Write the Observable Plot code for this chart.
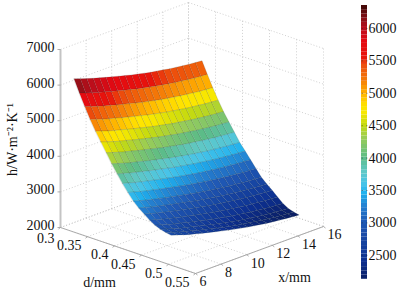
<!DOCTYPE html>
<html>
<head>
<meta charset="utf-8">
<script src="https://cdn.jsdelivr.net/npm/d3@7"></script>
<script src="https://cdn.jsdelivr.net/npm/@observablehq/plot@0.6"></script>
<style>html,body{margin:0;padding:0;background:#fff}svg{display:block}svg text{font-family:"Liberation Serif","Times New Roman",serif !important}</style>
</head>
<body>
<div id="chart"></div>
<script>
const dValues = [0.325,0.335,0.345,0.355,0.365,0.375,0.385,0.395,0.405,0.415,0.425,0.435,0.445,0.455,0.465,0.475,0.485,0.495,0.505];
const xValues = [6,6.5,7,7.5,8,8.5,9,9.5,10,10.5,11,11.5,12,12.5,13,13.5,14,14.5,15,15.5,16];
const hRows = [
[6310,6245,6180,6123,6074,6017,5968,5919,5870,5821,5780,5739,5699,5666,5634,5601,5576,5552,5528,5511,5495],
[5960,5896,5832,5776,5728,5672,5624,5576,5528,5480,5440,5400,5360,5328,5296,5264,5240,5216,5192,5176,5160],
[5630,5567,5504,5448,5401,5346,5298,5251,5203,5156,5116,5077,5037,5006,4974,4943,4919,4895,4872,4856,4840],
[5320,5258,5195,5141,5094,5039,4992,4946,4899,4852,4813,4774,4735,4704,4673,4641,4618,4595,4571,4556,4540],
[5040,4978,4917,4863,4817,4763,4717,4670,4624,4578,4540,4501,4462,4432,4401,4370,4347,4324,4301,4285,4270],
[4790,4729,4668,4615,4570,4516,4471,4425,4380,4334,4296,4258,4220,4190,4159,4129,4106,4083,4060,4045,4030],
[4540,4480,4421,4369,4324,4272,4227,4182,4138,4093,4056,4018,3981,3951,3922,3892,3869,3847,3825,3810,3795],
[4280,4222,4165,4114,4071,4021,3978,3934,3891,3848,3812,3776,3740,3711,3682,3654,3632,3610,3589,3574,3560],
[4050,3996,3941,3894,3853,3805,3764,3724,3683,3642,3608,3574,3540,3513,3486,3458,3438,3418,3397,3384,3370],
[3830,3778,3726,3680,3641,3596,3557,3518,3479,3440,3407,3375,3342,3316,3290,3264,3245,3225,3206,3193,3180],
[3630,3578,3526,3480,3441,3396,3357,3318,3279,3240,3207,3175,3142,3116,3090,3064,3045,3025,3006,2993,2980],
[3440,3388,3336,3290,3251,3206,3167,3128,3089,3050,3017,2985,2952,2926,2900,2874,2855,2835,2816,2803,2790],
[3300,3248,3196,3150,3111,3066,3027,2988,2949,2910,2877,2845,2812,2786,2760,2734,2715,2695,2676,2663,2650],
[3180,3128,3075,3029,2990,2944,2905,2866,2826,2787,2754,2722,2689,2663,2636,2610,2590,2571,2551,2538,2525],
[3060,3006,2953,2906,2866,2819,2779,2738,2698,2658,2624,2591,2557,2531,2504,2477,2457,2437,2417,2403,2390],
[2970,2913,2856,2807,2764,2714,2672,2629,2587,2544,2508,2473,2437,2409,2381,2352,2331,2310,2288,2274,2260],
[2910,2851,2792,2740,2695,2644,2599,2555,2510,2466,2429,2392,2355,2325,2296,2266,2244,2222,2200,2185,2170],
[2870,2810,2751,2699,2654,2602,2557,2512,2468,2423,2386,2348,2311,2281,2252,2222,2199,2177,2155,2140,2125],
[2840,2780,2720,2668,2623,2571,2526,2481,2437,2392,2354,2317,2280,2250,2220,2190,2168,2145,2123,2108,2093]
];
const dTicks = [0.3,0.35,0.4,0.45,0.5,0.55];
const xTicks = [6,8,10,12,14,16];
const hTicks = [2000,3000,4000,5000,6000,7000];
const barTicks = [2500,3000,3500,4000,4500,5000,5500,6000];
const colorStops = [2130,2400,2700,3000,3250,3450,3600,3800,4000,4300,4500,4700,4800,5000,5200,5450,5550,5800,6000,6100,6310];
const colorRange = ["#0a1f66","#0c2f90","#1643a0","#2058b4","#2480d0","#1fb0ee","#48c4e8","#60c8c4","#5cbc88","#98cc58","#c4da10","#f8e800","#ffe400","#ffb000","#f47a08","#ec4a0c","#e8140c","#e40a12","#b80e1c","#981018","#4a0808"];

// Axonometric view of the (d, x, h) box onto the page plane.
const viewX = (d, x) => 60 + (d - 0.3) / 0.25 * 135 + (x - 6) / 10 * 128;
const viewY = (d, x, h) => 227 + (d - 0.3) / 0.25 * 46 - (x - 6) / 10 * 47 - (h - 2000) * 0.0356;
const barY = h => 28 + (6000 - h) * 0.0648;

const pt = (d, x, h) => ({px: viewX(d, x), py: viewY(d, x, h)});
const seg = (a, b) => ({x1: a.px, y1: a.py, x2: b.px, y2: b.py});
const dMin = 0.3, dMax = 0.55, xMin = 6, xMax = 16, hMin = 2000, hMax = 7000;

const cells = [];
dValues.slice(0, -1).forEach((d, i) => {
  xValues.slice(0, -1).forEach((x, j) => {
    const corners = [[i, j], [i, j + 1], [i + 1, j + 1], [i + 1, j]];
    const mean = d3.mean(corners, ([a, b]) => hRows[a][b]);
    corners.forEach(([a, b]) => {
      cells.push({cell: i + "-" + j, h: mean, ...pt(dValues[a], xValues[b], hRows[a][b])});
    });
  });
});

const grid = [
  ...dTicks.map(d => seg(pt(d, xMin, hMin), pt(d, xMax, hMin))),
  ...xTicks.map(x => seg(pt(dMin, x, hMin), pt(dMax, x, hMin))),
  ...xTicks.map(x => seg(pt(dMin, x, hMin), pt(dMin, x, hMax))),
  ...dTicks.map(d => seg(pt(d, xMax, hMin), pt(d, xMax, hMax))),
  ...hTicks.map(h => seg(pt(dMin, xMin, h), pt(dMin, xMax, h))),
  ...hTicks.map(h => seg(pt(dMin, xMax, h), pt(dMax, xMax, h)))
];
const edges = [
  seg(pt(dMin, xMin, hMin), pt(dMax, xMin, hMin)),
  seg(pt(dMax, xMin, hMin), pt(dMax, xMax, hMin))
];
const zAxis = [seg(pt(dMin, xMin, hMin), pt(dMin, xMin, hMax))];
const tickMarks = [
  ...hTicks.map(h => { const p = pt(dMin, xMin, h); return {x1: p.px - 3, y1: p.py, x2: p.px, y2: p.py}; }),
  ...dTicks.map(d => { const p = pt(d, xMin, hMin); return {x1: p.px, y1: p.py, x2: p.px - 2, y2: p.py + 1.5}; }),
  ...xTicks.map(x => { const p = pt(dMax, x, hMin); return {x1: p.px, y1: p.py, x2: p.px + 2, y2: p.py + 1.5}; })
];

const barLevels = d3.range(2130, 6310, 65);
const serif = "Liberation Serif";
const tickText = (data, opts) => Plot.text(data, {fontFamily: serif, fontSize: 14, fill: "#111", ...opts});

const chart = Plot.plot({
  width: 397, height: 290, margin: 0,
  style: {background: "#fff", fontFamily: serif},
  x: {domain: [0, 397], range: [0, 397], axis: null},
  y: {domain: [0, 290], range: [0, 290], axis: null},
  color: {type: "linear", domain: colorStops, range: colorRange, interpolate: "rgb"},
  marks: [
    Plot.link(grid, {x1: "x1", y1: "y1", x2: "x2", y2: "y2", stroke: "#c4c4c4", strokeWidth: 0.8, strokeDasharray: "1,2"}),
    Plot.link(edges, {x1: "x1", y1: "y1", x2: "x2", y2: "y2", stroke: "#aaa", strokeWidth: 1}),
    Plot.link(zAxis, {x1: "x1", y1: "y1", x2: "x2", y2: "y2", stroke: "#c4c4c4", strokeWidth: 2}),
    Plot.link(tickMarks, {x1: "x1", y1: "y1", x2: "x2", y2: "y2", stroke: "#999", strokeWidth: 0.8}),
    Plot.line(cells, {x: "px", y: "py", z: "cell", fill: "h", curve: "linear-closed", stroke: "#14302a", strokeOpacity: 0.3, strokeWidth: 0.45}),
    tickText(hTicks, {x: () => 54, y: h => viewY(dMin, xMin, h), dy: -2, text: d => String(d), textAnchor: "end"}),
    tickText(dTicks, {x: d => viewX(d, xMin), y: d => viewY(d, xMin, hMin) + (d === dMin ? 11.5 : 9), dx: -6, text: d => String(d), textAnchor: "end"}),
    tickText(xTicks, {x: x => viewX(dMax, x), y: x => viewY(dMax, x, hMin), dx: 4, dy: 8.5, text: d => String(d), textAnchor: "start"}),
    tickText(["d/mm"], {x: () => 99, y: () => 282, text: d => d}),
    tickText(["x/mm"], {x: () => 294, y: () => 277, text: d => d}),
    tickText(["h/W·m⁻²·K⁻¹"], {x: () => 12, y: () => 139, text: d => d, rotate: -90}),
    Plot.rect(barLevels, {x1: () => 361, x2: () => 367, y1: h => barY(h + 65), y2: h => barY(h), fill: h => h + 32}),
    Plot.link(barTicks, {x1: () => 361, x2: () => 362.5, y1: barY, y2: barY, stroke: "#222", strokeOpacity: 0.6, strokeWidth: 0.7}),
    Plot.link(barTicks, {x1: () => 365.5, x2: () => 367, y1: barY, y2: barY, stroke: "#222", strokeOpacity: 0.6, strokeWidth: 0.7}),
    tickText(barTicks, {x: () => 368, y: barY, text: d => String(d), textAnchor: "start"})
  ]
});
document.getElementById("chart").append(chart);
</script>
</body>
</html>
